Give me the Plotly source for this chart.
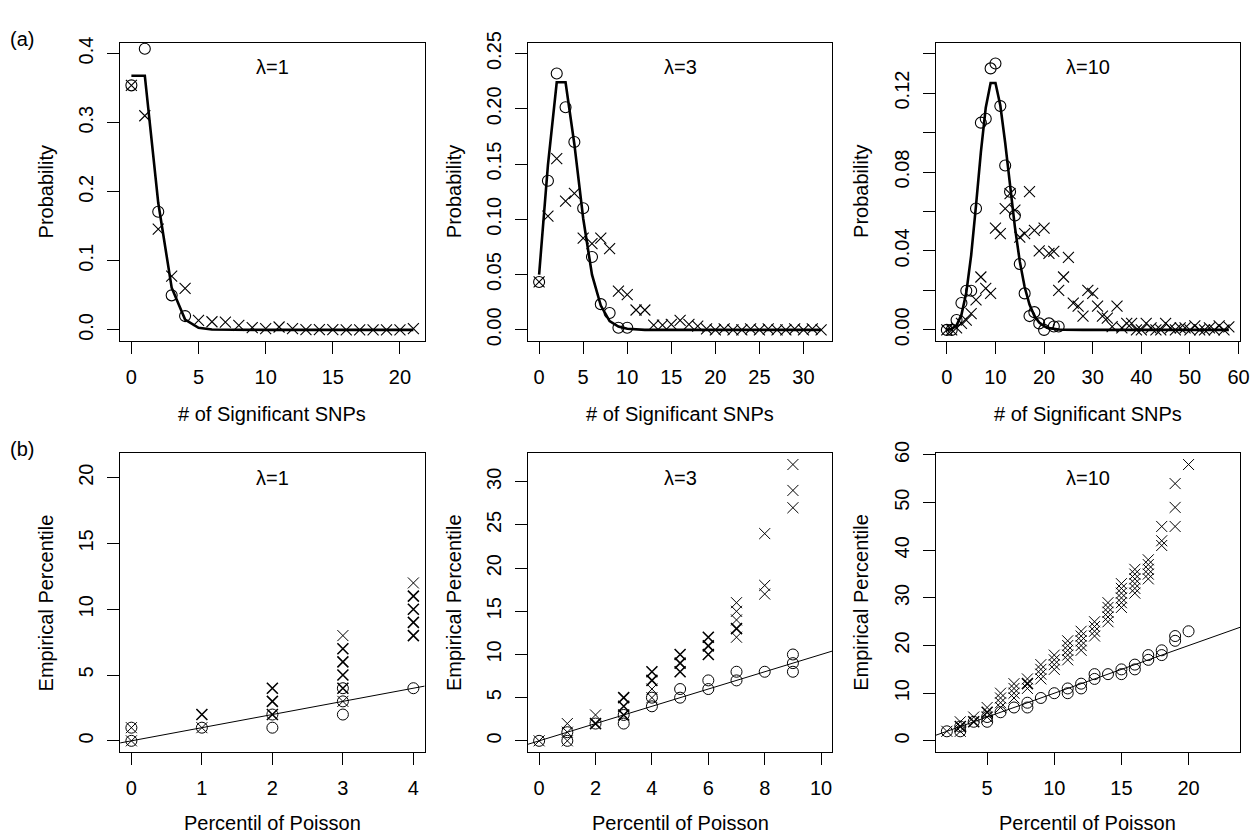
import plotly.graph_objects as go
from collections import Counter

W, H = 1258, 835

# ---------------- data: row (a) distributions ----------------
snp_lam1 = list(range(22))
poisson_lam1 = [0.368, 0.368, 0.184, 0.061, 0.015, 0.003, 0.0005, 0.0001,
                0, 0, 0, 0, 0, 0, 0, 0, 0, 0, 0, 0, 0, 0]
emp_circ_lam1 = [0.354, 0.407, 0.171, 0.050, 0.020]
emp_cross_lam1 = [0.354, 0.310, 0.146, 0.078, 0.060, 0.0137, 0.0118, 0.0113,
                  0.0066, 0.0033, 0.0019, 0.0042, 0.0019, 0.0005, 0.0005,
                  0.0005, 0.0, 0.0, 0.0, 0.0, 0.0, 0.0019]

snp_lam3 = list(range(33))
poisson_lam3 = [0.050, 0.149, 0.224, 0.224, 0.168, 0.101, 0.050, 0.022,
                0.008, 0.003, 0.001, 0.0002, 0, 0, 0, 0, 0, 0, 0, 0, 0, 0,
                0, 0, 0, 0, 0, 0, 0, 0, 0, 0, 0]
emp_circ_lam3 = [0.0434, 0.135, 0.232, 0.2015, 0.170, 0.110, 0.066, 0.0233,
                 0.0153, 0.002, 0.002]
emp_cross_lam3 = [0.0434, 0.103, 0.155, 0.1165, 0.1236, 0.083, 0.078, 0.083,
                  0.0735, 0.035, 0.032, 0.018, 0.018, 0.0044, 0.0044, 0.005,
                  0.0086, 0.005, 0.0035, 0.001, 0.0, 0.001, 0.0, 0.0, 0.001,
                  0.0, 0.001, 0.0, 0.0, 0.001, 0.0, 0.001, 0.0]

snp_lam10 = list(range(59))
poisson_lam10 = [0.0000, 0.0005, 0.0023, 0.0076, 0.0189, 0.0378, 0.0631,
                 0.0901, 0.1126, 0.1251, 0.1251, 0.1137, 0.0948, 0.0729,
                 0.0521, 0.0347, 0.0217, 0.0128, 0.0071, 0.0037, 0.0019,
                 0.0009, 0.0004, 0.0002, 0.0001, 0, 0, 0, 0, 0, 0, 0, 0, 0,
                 0, 0, 0, 0, 0, 0, 0, 0, 0, 0, 0, 0, 0, 0, 0, 0, 0, 0, 0, 0,
                 0, 0, 0, 0, 0]
emp_circ_lam10 = [0, 0, 0.005, 0.0136, 0.0198, 0.0198, 0.0615, 0.105, 0.107,
                  0.1325, 0.135, 0.1134, 0.0833, 0.070, 0.058, 0.0334,
                  0.0185, 0.007, 0.009, 0.0033, 0.0, 0.0033, 0.0017, 0.0017]
emp_cross_lam10 = [0, 0, 0.001, 0.0033, 0.005, 0.0083, 0.0152, 0.0268, 0.021,
                   0.0185, 0.0516, 0.0488, 0.0615, 0.069, 0.0607, 0.047,
                   0.0488, 0.070, 0.0504, 0.040, 0.0516, 0.0388, 0.0398,
                   0.020, 0.0268, 0.0367, 0.0136, 0.012, 0.007, 0.020, 0.0185,
                   0.012, 0.007, 0.006, 0.0017, 0.012, 0.001, 0.0033, 0.0033,
                   0, 0, 0.0033, 0.001, 0, 0, 0.0033, 0.001, 0, 0.001, 0.001,
                   0, 0.002, 0, 0, 0.001, 0, 0.002, 0, 0.0015]

# ---------------- data: row (b) percentile plots ----------------
b1_circ_x = [0, 0, 1, 2, 2, 3, 3, 3, 4]
b1_circ_y = [0, 1, 1, 1, 2, 2, 3, 4, 4]
b1_cross_x = [0, 0, 1, 1, 1, 2, 2, 2, 2, 2, 2, 3, 3, 3, 3, 3, 3, 3, 3, 3, 3,
              4, 4, 4, 4, 4, 4, 4, 4, 4]
b1_cross_y = [0, 1, 1, 2, 2, 2, 2, 3, 3, 4, 4, 3, 4, 4, 5, 5, 6, 6, 7, 7, 8,
              8, 8, 9, 9, 10, 10, 11, 11, 12]

b2_circ_x = [0, 1, 1, 2, 3, 3, 4, 4, 5, 5, 6, 6, 7, 7, 8, 9, 9, 9]
b2_circ_y = [0, 0, 1, 2, 2, 3, 4, 5, 5, 6, 6, 7, 7, 8, 8, 8, 9, 10]
b2_cross_x = [0, 1, 1, 1, 2, 2, 2, 3, 3, 3, 3, 3, 3, 4, 4, 4, 4, 4, 4,
              5, 5, 5, 5, 5, 5, 6, 6, 6, 6, 6, 6, 7, 7, 7, 7, 7, 7,
              8, 8, 8, 9, 9, 9]
b2_cross_y = [0, 0, 1, 2, 2, 2, 3, 3, 3, 4, 4, 5, 5, 5, 6, 7, 7, 8, 8,
              8, 8, 9, 9, 10, 10, 10, 10, 11, 11, 12, 12, 12, 13, 13, 14, 15, 16,
              17, 18, 24, 27, 29, 32]

b3_circ_x = [2, 3, 3, 4, 5, 5, 6, 7, 8, 8, 9, 10, 11, 11, 12, 12, 13, 13, 14,
             15, 15, 16, 16, 17, 17, 18, 18, 19, 19, 20]
b3_circ_y = [2, 2, 3, 4, 4, 5, 6, 7, 7, 8, 9, 10, 10, 11, 11, 12, 13, 14, 14,
             14, 15, 15, 16, 17, 18, 18, 19, 21, 22, 23]
b3_cross_x = [2, 3, 3, 3, 3, 4, 4, 4, 5, 5, 5, 5, 6, 6, 6, 6, 7, 7, 7, 7,
              8, 8, 8, 8, 9, 9, 9, 9, 10, 10, 10, 10, 11, 11, 11, 11, 11,
              12, 12, 12, 12, 12, 13, 13, 13, 13, 14, 14, 14, 14, 14,
              15, 15, 15, 15, 15, 15, 16, 16, 16, 16, 16, 16,
              17, 17, 17, 17, 17, 18, 18, 18, 19, 19, 19, 20]
b3_cross_y = [2, 2, 3, 3, 4, 4, 4, 5, 5, 6, 6, 7, 7, 8, 9, 10, 9, 10, 11, 12,
              11, 12, 12, 13, 13, 14, 15, 16, 15, 16, 17, 18, 17, 18, 19, 20, 21,
              19, 20, 21, 22, 23, 22, 23, 24, 25, 25, 26, 27, 28, 29,
              28, 29, 30, 31, 32, 33, 31, 32, 33, 34, 35, 36,
              34, 35, 36, 37, 38, 41, 42, 45, 45, 49, 54, 58]

lambda_labels = ["λ=1", "λ=3", "λ=10"]
ref_slope = 1.0  # reference line y = x in row (b)

# axis limits (data limits, R style 4% padding added below)
a_xlim = [(0, 21), (0, 32), (0, 58)]
a_ylim = [(0, 0.4), (0, 0.25), (0, 0.14)]
b_xlim = [(0, 4), (0, 10), (2, 23)]
b_ylim = [(0, 21), (0, 32), (0, 58)]

a_xticks = [[0, 5, 10, 15, 20], [0, 5, 10, 15, 20, 25, 30],
            [0, 10, 20, 30, 40, 50, 60]]
a_yticks = [[0, 0.1, 0.2, 0.3, 0.4], [0, 0.05, 0.10, 0.15, 0.20, 0.25],
            [0, 0.02, 0.04, 0.06, 0.08, 0.10, 0.12, 0.14]]
a_yticktext = [["0.0", "0.1", "0.2", "0.3", "0.4"],
               ["0.00", "0.05", "0.10", "0.15", "0.20", "0.25"],
               ["0.00", "", "0.04", "", "0.08", "", "0.12", ""]]
b_xticks = [[0, 1, 2, 3, 4], [0, 2, 4, 6, 8, 10], [5, 10, 15, 20]]
b_yticks = [[0, 5, 10, 15, 20], [0, 5, 10, 15, 20, 25, 30],
            [0, 10, 20, 30, 40, 50, 60]]

# ---------------- layout geometry (pixels) ----------------
col_px = [(113, 420), (524, 831), (935, 1242)]
row_px = [(22, 327), (442, 747)]
FONT = "Liberation Sans, Arial, Helvetica, sans-serif"
TICK_FS = 20
TITLE_FS = 20
XTITLE_OFF = [75, 73]


def xdom(c):
    return [col_px[c][0] / W, col_px[c][1] / W]


def ydom(r):
    return [1 - row_px[r][1] / H, 1 - row_px[r][0] / H]


def padded(lim):
    d = (lim[1] - lim[0]) * 0.04
    return [lim[0] - d, lim[1] + d]


def collapse(xs, ys):
    c = Counter(zip(xs, ys))
    keys = list(c.keys())
    return ([k[0] for k in keys], [k[1] for k in keys],
            [min(1.0 + 0.6 * (c[k] - 1), 2.2) for k in keys])


fig = go.Figure()
layout = dict(width=W, height=H, autosize=False,
              margin=dict(l=0, r=0, t=0, b=0),
              paper_bgcolor="white", plot_bgcolor="white",
              showlegend=False, font=dict(family=FONT, color="black"))
annotations = []


def axis_common():
    return dict(showline=True, linecolor="black", linewidth=1, mirror=True,
                ticks="outside", ticklen=12, tickwidth=1, tickcolor="black",
                showgrid=False, zeroline=False, ticklabelstandoff=6,
                tickfont=dict(family=FONT, size=TICK_FS, color="black"))


a_sets = [(snp_lam1, poisson_lam1, emp_circ_lam1, emp_cross_lam1),
          (snp_lam3, poisson_lam3, emp_circ_lam3, emp_cross_lam3),
          (snp_lam10, poisson_lam10, emp_circ_lam10, emp_cross_lam10)]
b_sets = [(b1_circ_x, b1_circ_y, b1_cross_x, b1_cross_y),
          (b2_circ_x, b2_circ_y, b2_cross_x, b2_cross_y),
          (b3_circ_x, b3_circ_y, b3_cross_x, b3_cross_y)]

MS = 11
idx = 0
for r in range(2):
    for c in range(3):
        idx += 1
        xa = "x" if idx == 1 else f"x{idx}"
        ya = "y" if idx == 1 else f"y{idx}"
        xkey = "xaxis" if idx == 1 else f"xaxis{idx}"
        ykey = "yaxis" if idx == 1 else f"yaxis{idx}"
        xax = axis_common()
        yax = axis_common()
        xax.update(domain=xdom(c), anchor=ya)
        yax.update(domain=ydom(r), anchor=xa, tickangle=-90)
        if r == 0:
            snp, pois, circ, cross = a_sets[c]
            xr = padded(a_xlim[c])
            yr = padded(a_ylim[c])
            xax.update(range=xr, tickvals=a_xticks[c])
            yax.update(range=yr, tickvals=a_yticks[c],
                       ticktext=a_yticktext[c])
            fig.add_trace(go.Scatter(x=snp, y=pois, mode="lines",
                                     line=dict(color="black", width=2.6),
                                     xaxis=xa, yaxis=ya))
            fig.add_trace(go.Scatter(
                x=snp[:len(circ)], y=circ, mode="markers",
                marker=dict(symbol="circle-open", size=MS, color="black",
                            line=dict(width=1.1, color="black")),
                xaxis=xa, yaxis=ya))
            fig.add_trace(go.Scatter(
                x=snp[:len(cross)], y=cross, mode="markers",
                marker=dict(symbol="x-thin-open", size=MS, color="black",
                            line=dict(width=1.1, color="black")),
                xaxis=xa, yaxis=ya))
            xtitle = "# of Significant SNPs"
            ytitle = "Probability"
        else:
            cx, cy, kx, ky = b_sets[c]
            xr = padded(b_xlim[c])
            yr = padded(b_ylim[c])
            xax.update(range=xr, tickvals=b_xticks[c])
            yax.update(range=yr, tickvals=b_yticks[c])
            fig.add_trace(go.Scatter(x=xr, y=[ref_slope * v for v in xr],
                                     mode="lines",
                                     line=dict(color="black", width=1),
                                     xaxis=xa, yaxis=ya))
            px_, py_, pw = collapse(cx, cy)
            fig.add_trace(go.Scatter(
                x=px_, y=py_, mode="markers",
                marker=dict(symbol="circle-open", size=MS, color="black",
                            line=dict(width=pw, color="black")),
                xaxis=xa, yaxis=ya))
            qx, qy, qw = collapse(kx, ky)
            fig.add_trace(go.Scatter(
                x=qx, y=qy, mode="markers",
                marker=dict(symbol="x-thin-open", size=MS, color="black",
                            line=dict(width=qw, color="black")),
                xaxis=xa, yaxis=ya))
            xtitle = "Percentil of Poisson"
            ytitle = "Empirical Percentile"
        layout[xkey] = xax
        layout[ykey] = yax

        top, bot = row_px[r]
        left, right = col_px[c]
        # panel label inside the box
        annotations.append(dict(
            text=lambda_labels[c], xref="paper", yref="paper",
            x=(left + right) / 2 / W, y=1 - (top + 25) / H,
            xanchor="center", yanchor="middle", showarrow=False,
            font=dict(family=FONT, size=TITLE_FS, color="black")))
        # x title
        annotations.append(dict(
            text=xtitle, xref="paper", yref="paper",
            x=(left + right) / 2 / W, y=1 - (bot + XTITLE_OFF[r]) / H,
            xanchor="center", yanchor="middle", showarrow=False,
            font=dict(family=FONT, size=TITLE_FS, color="black")))
        # y title
        annotations.append(dict(
            text=ytitle, xref="paper", yref="paper", textangle=-90,
            x=(left - 75) / W, y=1 - (top + bot) / 2 / H,
            xanchor="center", yanchor="middle", showarrow=False,
            font=dict(family=FONT, size=TITLE_FS, color="black")))

annotations.append(dict(text="(a)", xref="paper", yref="paper",
                        x=14 / W, y=1 - 18 / H, xanchor="center",
                        yanchor="middle", showarrow=False,
                        font=dict(family=FONT, size=TITLE_FS, color="black")))
annotations.append(dict(text="(b)", xref="paper", yref="paper",
                        x=14 / W, y=1 - 437 / H, xanchor="center",
                        yanchor="middle", showarrow=False,
                        font=dict(family=FONT, size=TITLE_FS, color="black")))

layout["annotations"] = annotations
fig.update_layout(**layout)
fig.write_html("out.html", include_plotlyjs=True,
               config={"displayModeBar": False})
